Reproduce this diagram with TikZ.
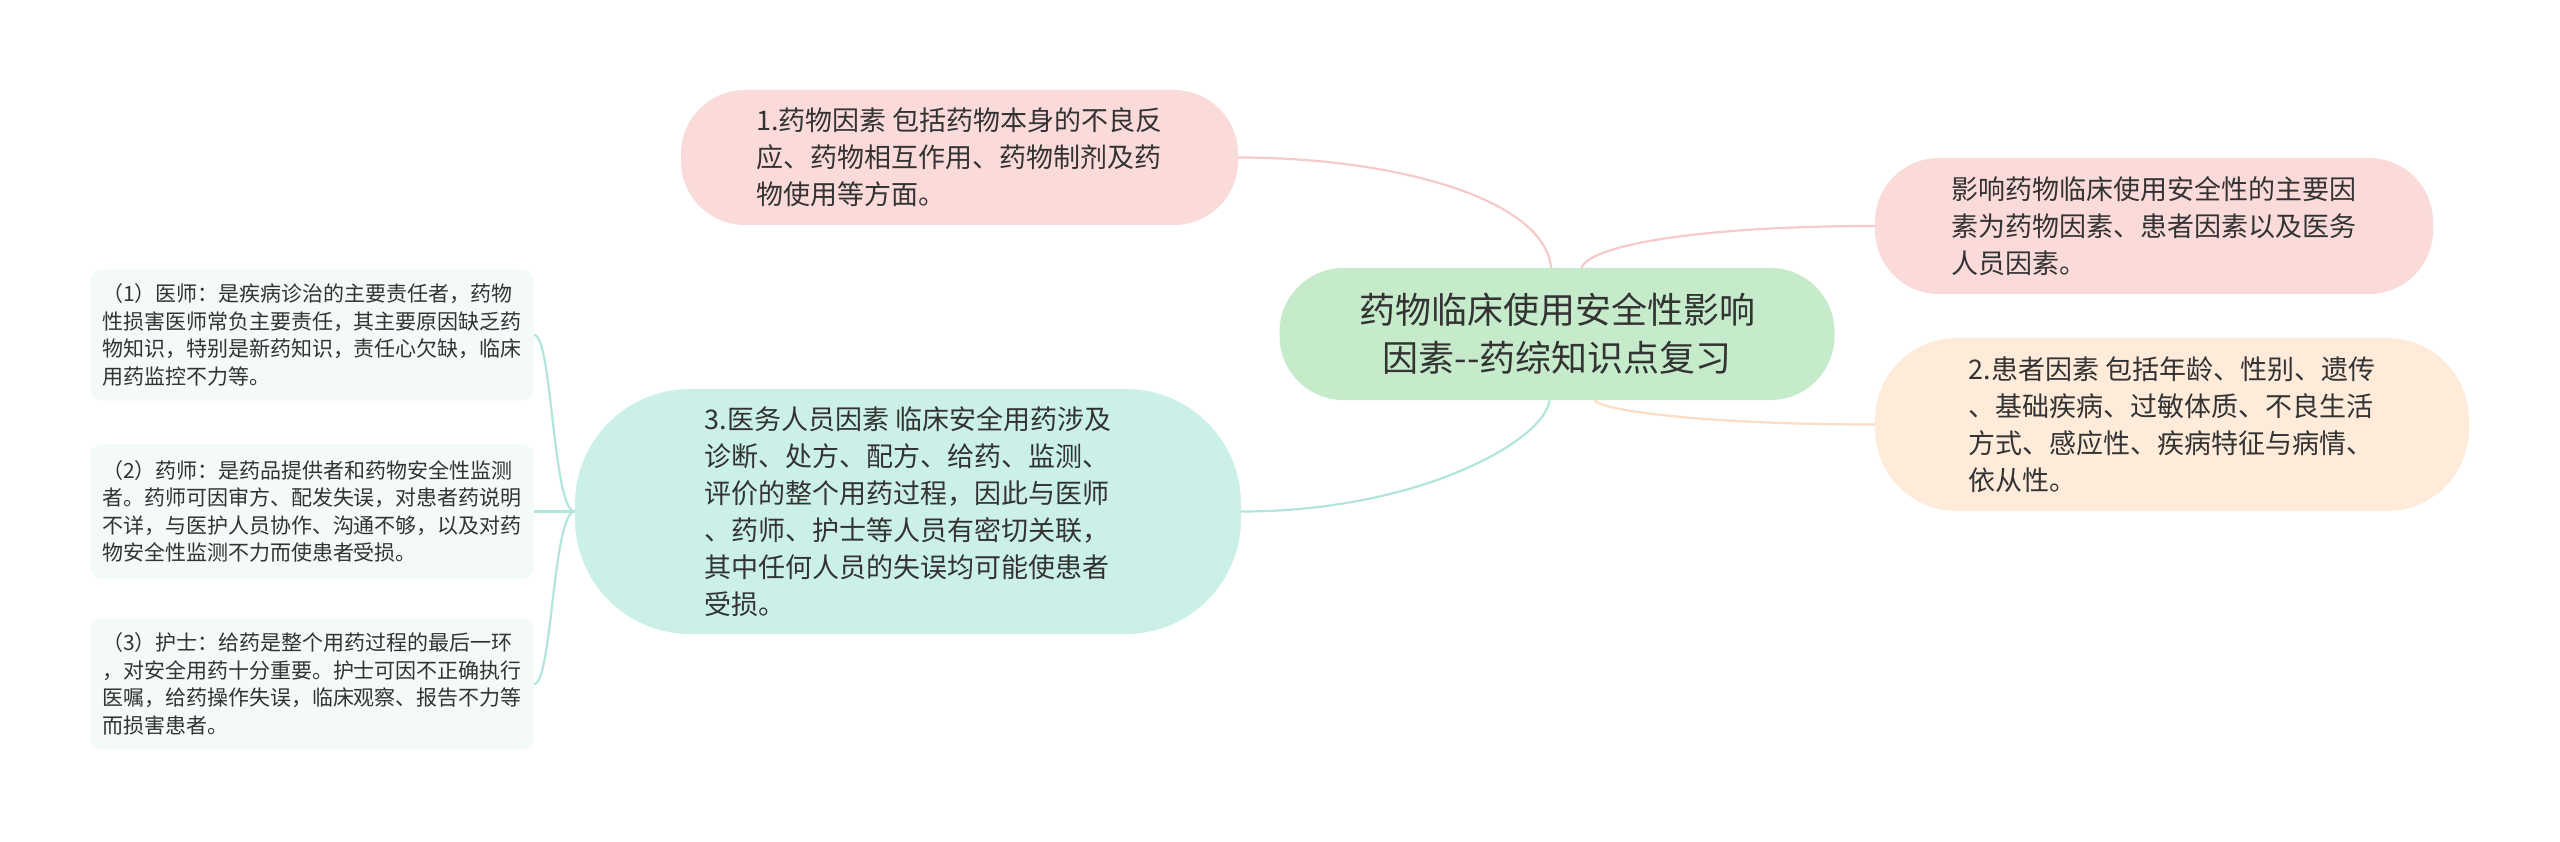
\documentclass[tikz,border=0pt]{standalone}
\usepackage{fontspec}
\newfontfamily\cjk{Noto Sans CJK SC}
\usetikzlibrary{backgrounds}

\definecolor{txt}{HTML}{333333}
\definecolor{cTopic}{HTML}{C6EBCB}
\definecolor{cPink}{HTML}{FBDADA}
\definecolor{cPeach}{HTML}{FEEBDA}
\definecolor{cTeal}{HTML}{CBF0E8}
\definecolor{cLeaf}{HTML}{F3FAF9}
\definecolor{cPinkLine}{HTML}{F6CACA}
\definecolor{cPeachLine}{HTML}{FCDCC2}
\definecolor{cTealLine}{HTML}{B2E6DC}

\begin{document}
\begin{tikzpicture}[x=1pt, y=-1pt,
  box/.style={rectangle, inner sep=0pt, align=left, text=txt,
    font=\cjk\fontsize{27}{37}\selectfont},
  topic/.style={box, align=center, fill=cTopic, rounded corners=64pt,
    minimum width=555pt, minimum height=132pt,
    font=\cjk\fontsize{36}{48}\selectfont},
  leaf/.style={box, fill=cLeaf, rounded corners=12pt, minimum width=444pt,
    font=\cjk\fontsize{21}{27.5}\selectfont},
  pinkedge/.style={draw=cPinkLine, line width=2.2pt},
  peachedge/.style={draw=cPeachLine, line width=2.2pt},
  tealedge/.style={draw=cTealLine, line width=2.2pt}]
  \useasboundingbox (0,0) rectangle (2560,842);

  % Nodes
  \node[topic] (ctr) at (1557,334) {药物临床使用安全性影响\\因素-{}-药综知识点复习};
  \node[box, fill=cPink, rounded corners=64pt, minimum width=557pt, minimum height=135pt]
    (drug) at (959.5,157.5) {1.药物因素 包括药物本身的不良反\\应、药物相互作用、药物制剂及药\\物使用等方面。};
  \node[box, fill=cPink, rounded corners=64pt, minimum width=558pt, minimum height=136pt]
    (main) at (2154,226) {影响药物临床使用安全性的主要因\\素为药物因素、患者因素以及医务\\人员因素。};
  \node[box, fill=cPeach, rounded corners=82pt, minimum width=594pt, minimum height=173pt]
    (patient) at (2172,424.5) {2.患者因素 包括年龄、性别、遗传\\、基础疾病、过敏体质、不良生活\\方式、感应性、疾病特征与病情、\\依从性。};
  \node[box, fill=cTeal, rounded corners=115pt, minimum width=666pt, minimum height=245pt]
    (staff) at (908,511.5) {3.医务人员因素 临床安全用药涉及\\诊断、处方、配方、给药、监测、\\评价的整个用药过程，因此与医师\\、药师、护士等人员有密切关联，\\其中任何人员的失误均可能使患者\\受损。};
  \node[leaf, minimum height=131pt] (doctor) at (312,335)
    {（1）医师：是疾病诊治的主要责任者，药物\\性损害医师常负主要责任，其主要原因缺乏药\\物知识，特别是新药知识，责任心欠缺，临床\\用药监控不力等。};
  \node[leaf, minimum height=135pt] (pharm) at (312,511.5)
    {（2）药师：是药品提供者和药物安全性监测\\者。药师可因审方、配发失误，对患者药说明\\不详，与医护人员协作、沟通不够，以及对药\\物安全性监测不力而使患者受损。};
  \node[leaf, minimum height=131pt] (nurse) at (312,684)
    {（3）护士：给药是整个用药过程的最后一环\\，对安全用药十分重要。护士可因不正确执行\\医嘱，给药操作失误，临床观察、报告不力等\\而损害患者。};

  % Edges
  \begin{scope}[on background layer]
    \fill[white] (0,0) rectangle (2560,842);
    \draw[pinkedge] (ctr) .. controls +(-12,-134) and +(160,0) .. (drug.east);
    \draw[pinkedge] (ctr) .. controls +(33,-89) and +(-175,0) .. (main.west);
    \draw[peachedge] (ctr) .. controls +(43,76) and +(-175,0) .. (patient.west);
    \draw[tealedge] (ctr) .. controls +(-12,106) and +(179,0) .. (staff.east);
    \draw[tealedge] (staff.west) .. controls +(-22,0) and +(18,0) .. (doctor.east);
    \draw[tealedge] (staff.west) -- (pharm.east);
    \draw[tealedge] (staff.west) .. controls +(-22,0) and +(18,0) .. (nurse.east);
  \end{scope}
\end{tikzpicture}
\end{document}
